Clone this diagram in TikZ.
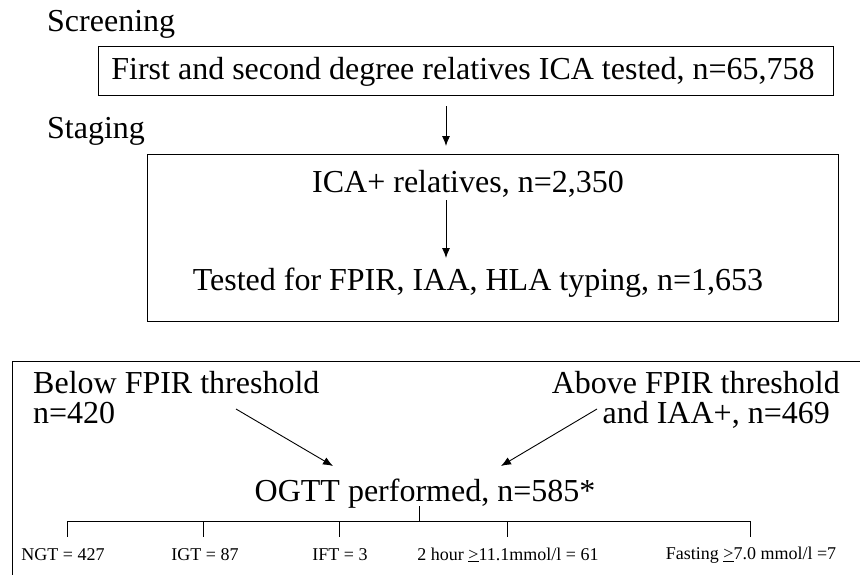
\documentclass[tikz,border=0pt]{standalone}
\usepackage{fontspec}
\setmainfont{Liberation Serif}
\usetikzlibrary{arrows.meta}
\begin{document}
\begin{tikzpicture}[x=1pt,y=1pt,
  big/.style={font=\fontsize{32}{36}\selectfont, inner sep=0pt},
  small/.style={font=\fontsize{18}{20}\selectfont, inner sep=0pt},
  boxline/.style={draw=black, line width=1pt},
  arr/.style={line width=0.9pt, -{Latex[length=10pt,width=8pt]}},
  tree/.style={line width=1pt}]
\useasboundingbox (0,0) rectangle (860,-574);
% Screening
\node[big, anchor=base west] (scr) at (47,-31) {Screening};
\node[boxline, minimum width=735pt, minimum height=49pt, inner sep=0pt] (box1) at (465.5,-70.5) {};
\node[big, anchor=base] (t1) at (463,-79) {First and second degree relatives ICA tested, n=65,758};
% Staging
\node[big, anchor=base west] (stg) at (47,-138) {Staging};
\node[boxline, minimum width=691pt, minimum height=167pt, inner sep=0pt] (box2) at (492.5,-237.5) {};
\node[big, anchor=base] (t2) at (468,-192) {ICA+ relatives, n=2,350};
\node[big, anchor=base] (t3) at (478,-290) {Tested for FPIR, IAA, HLA typing, n=1,653};
\coordinate (a1s) at (446,-106);
\coordinate (a1e) at (446,-146);
\draw[arr] (a1s) -- (a1e);
\coordinate (a2s) at (446,-200);
\coordinate (a2e) at (446,-258);
\draw[arr] (a2s) -- (a2e);
% bottom panel
\coordinate (pbl) at (12,-576);
\coordinate (ptl) at (12,-361);
\coordinate (ptr) at (862,-361);
\draw[boxline] (pbl) -- (ptl) -- (ptr);
\node[big, anchor=base west] (below1) at (33,-393) {Below FPIR threshold};
\node[big, anchor=base west] (below2) at (33,-423) {n=420};
\node[big, anchor=base east] (above1) at (840,-393) {Above FPIR threshold};
\node[big, anchor=base east] (above2) at (830,-423) {and IAA+, n=469};
\node[big, anchor=base] (ogtt) at (425,-501) {OGTT performed, n=585*};
\coordinate (la) at (236,-409);
\coordinate (lb) at (333,-466);
\coordinate (ra) at (597,-409);
\coordinate (rb) at (501,-466);
\draw[arr] (la) -- (lb);
\draw[arr] (ra) -- (rb);
% tree
\coordinate (stem) at (419,-506);
\coordinate (hub) at (419,-521);
\draw[tree] (stem) -- (hub);
\coordinate (b1) at (67,-521);
\coordinate (b2) at (203,-521);
\coordinate (b3) at (339,-521);
\coordinate (b4) at (507,-521);
\coordinate (b5) at (750,-521);
\draw[tree] (b1) -- (b5);
\foreach \i in {1,...,5} {\draw[tree] (b\i) -- ++(0,-16);}
\node[small] (ngt) at (63,-555) {NGT = 427};
\node[small] (igt) at (205,-555) {IGT = 87};
\node[small] (ift) at (340,-555) {IFT = 3};
\node[small] (two) at (508,-555) {2 hour \underline{>}11.1mmol/l = 61};
\node[small] (fast) at (751,-555) {Fasting \underline{>}7.0 mmol/l =7};
\end{tikzpicture}
\end{document}
